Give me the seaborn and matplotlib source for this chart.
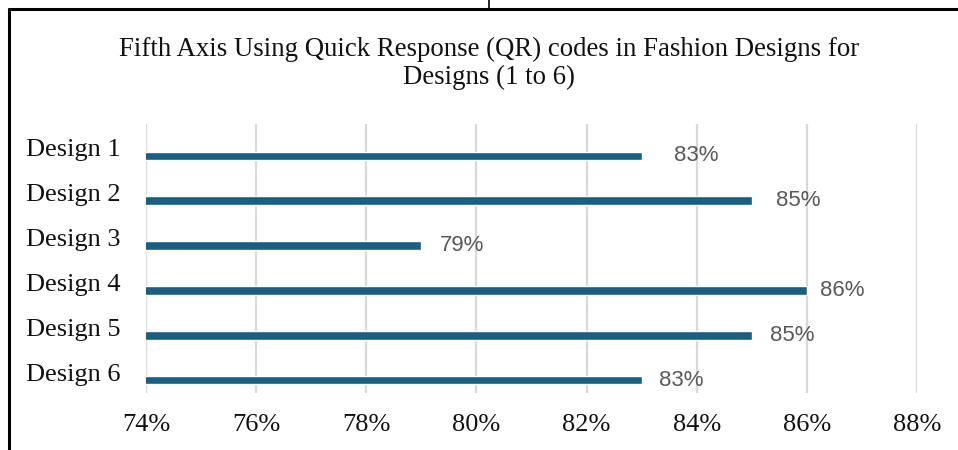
import matplotlib
matplotlib.use("Agg")
import matplotlib.pyplot as plt
from matplotlib.transforms import ScaledTranslation
import seaborn as sns
import pandas as pd

# Data
designs = ["Design 1", "Design 2", "Design 3", "Design 4", "Design 5", "Design 6"]
scores = [83, 85, 79, 86, 85, 83]
x_ticks = [74, 76, 78, 80, 82, 84, 86, 88]
title = "Fifth Axis Using Quick Response (QR) codes in Fashion Designs for\nDesigns (1 to 6)"

# horizontal gap (pixels) between each bar end and its value label
label_gap_px = [32, 24, 19, 13, 18, 17]

df = pd.DataFrame({"design": designs, "score": scores})

sns.set_theme(style="white")
plt.rcParams["font.family"] = ["Liberation Serif", "DejaVu Serif"]

W, H, DPI = 958, 450, 100
fig = plt.figure(figsize=(W / DPI, H / DPI), dpi=DPI)
fig.patch.set_facecolor("white")

# plot area in pixel coordinates
left_px, right_px, top_px, bottom_px = 146, 917, 124, 393
ax = fig.add_axes([left_px / W, 1 - bottom_px / H,
                   (right_px - left_px) / W, (bottom_px - top_px) / H])

bar_color = "#1a5f82"
sns.barplot(data=df, x="score", y="design", orient="h", color=bar_color,
            width=0.2, saturation=1, ax=ax, zorder=3)

ax.set_xlim(74, 88)
ax.set_ylim(5.29, -0.714)
ax.set_xticks(x_ticks)
ax.set_xticklabels([f"{t}%" for t in x_ticks], fontsize=19, color="#111111")
ax.set_yticks(range(len(designs)))
ax.set_yticklabels(designs, fontsize=19, color="#111111")
ax.tick_params(axis="x", length=0, pad=15)
ax.tick_params(axis="y", length=0, pad=18)
for lab in ax.get_yticklabels():
    lab.set_transform(lab.get_transform() + ScaledTranslation(0, 8 / DPI, fig.dpi_scale_trans))
ax.set_xlabel("")
ax.set_ylabel("")
ax.grid(axis="x", color="#d9d9d9", linewidth=1.6, zorder=0)
ax.grid(axis="y", visible=False)
for s in ax.spines.values():
    s.set_visible(False)

# value labels
for i, (v, gap) in enumerate(zip(scores, label_gap_px)):
    ax.annotate(f"{v}%", xy=(v, i), xytext=(gap * 72 / DPI, 0), textcoords="offset points",
                ha="left", va="center", fontsize=16, color="#595959",
                family=["Liberation Sans", "DejaVu Sans"])

# title
fig.text(489 / W, 1 - 63 / H, title, ha="center", va="center", fontsize=19.3,
         linespacing=1.15, color="#111111")

# surrounding frame
fig.add_artist(plt.Line2D([9 / W, 1], [1 - 9 / H, 1 - 9 / H], color="black", linewidth=2.2))
fig.add_artist(plt.Line2D([9 / W, 9 / W], [0, 1 - 9 / H], color="black", linewidth=2.2))
fig.add_artist(plt.Line2D([489 / W, 489 / W], [1 - 9 / H, 1], color="black", linewidth=1.2))

fig.savefig("out.png", dpi=DPI, facecolor="white")
